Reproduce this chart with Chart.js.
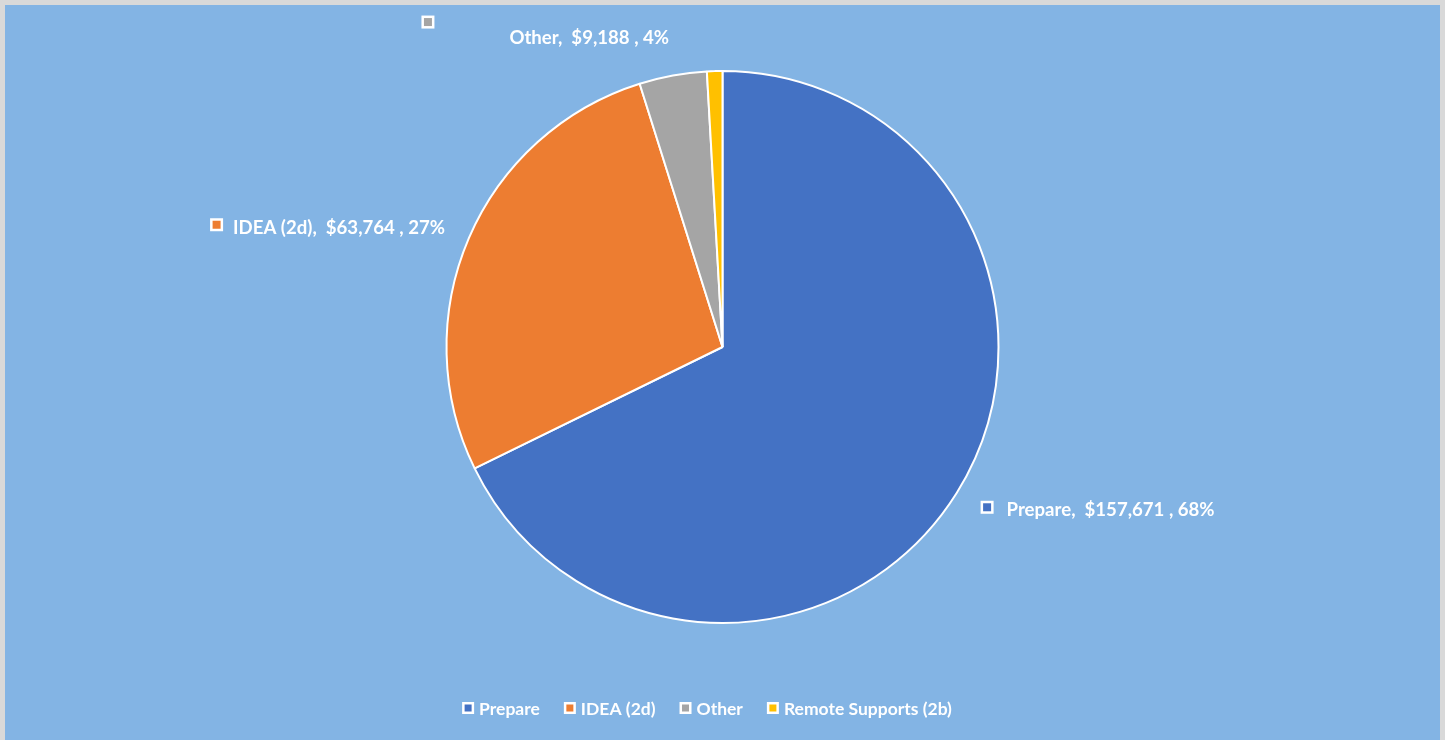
<!DOCTYPE html>
<html>
<head>
<meta charset="utf-8">
<script src="https://cdn.jsdelivr.net/npm/chart.js@4/dist/chart.umd.min.js"></script>
<style>
  html, body { margin: 0; padding: 0; background: #d9d9d9; }
  #wrap { width: 1445px; height: 740px; }
</style>
</head>
<body>
<div id="wrap"><canvas id="fundingChart" width="1445" height="740"></canvas></div>
<script>
const categories = ['Prepare', 'IDEA (2d)', 'Other', 'Remote Supports (2b)']
const amounts = [157671, 63764, 9188, 2100]
const sliceColors = ['#4472c4', '#ed7d31', '#a5a5a5', '#ffc000']
const showLabel = [true, true, true, false]

const FONT = 'Lato, "Open Sans", sans-serif'
const BG = '#83b4e4'

const money = v => '$' + v.toLocaleString('en-US') + ' '

// panel background with the grey frame round it
const panelBg = {
    id: 'panelBg',
    beforeDraw(chart) {
        const ctx = chart.ctx
        ctx.save()
        ctx.fillStyle = '#d9d9d9'
        ctx.fillRect(0, 0, chart.width, chart.height)
        ctx.fillStyle = BG
        ctx.fillRect(5, 5, chart.width - 10, chart.height - 5)
        ctx.restore()
    }
}

const drawKey = (ctx, x, y, size, color) => {
    ctx.fillStyle = '#ffffff'
    ctx.fillRect(x, y, size, size)
    ctx.fillStyle = color
    ctx.fillRect(x + 2.5, y + 2.5, size - 5, size - 5)
}

// outside-end data labels, excel style
const outsideLabels = {
    id: 'outsideLabels',
    afterDraw(chart) {
        const ctx = chart.ctx
        const meta = chart.getDatasetMeta(0)
        const total = amounts.reduce((a, b) => a + b, 0)
        ctx.save()
        ctx.font = 'bold 18.6px ' + FONT
        ctx.textBaseline = 'middle'
        meta.data.forEach((arc, i) => {
            if (!showLabel[i]) return
            const { x, y, startAngle, endAngle, outerRadius } = arc.getProps(['x', 'y', 'startAngle', 'endAngle', 'outerRadius'], true)
            const mid = (startAngle + endAngle) / 2
            const r = outerRadius + 27
            const ax = x + Math.cos(mid) * r
            const ay = y + Math.sin(mid) * r
            const pct = Math.round(amounts[i] / total * 100)
            const text = `${categories[i]},  ${money(amounts[i])}, ${pct}%`
            const w = ctx.measureText(text).width
            const cy = ay + 13 * Math.pow(Math.sin(mid), 3) + 1
            const keySize = 13
            let textX, keyX, keyY
            if (ax >= x) {
                keyX = ax + 1
                textX = keyX + keySize + 13
            } else {
                textX = ax - w + 1
                keyX = textX - keySize - 10
            }
            keyY = cy - keySize / 2 - 3
            if (i === 2) {
                // excel left this key behind when the label was moved
                keyX = textX - 88
                keyY = cy - 22
            }
            drawKey(ctx, keyX, keyY, keySize, sliceColors[i])
            ctx.fillStyle = '#ffffff'
            ctx.textAlign = 'left'
            ctx.fillText(text, textX, cy)
        })
        ctx.restore()
    }
}

// bottom legend, drawn by hand to keep the tight key/text spacing
const bottomLegend = {
    id: 'bottomLegend',
    afterDraw(chart) {
        const ctx = chart.ctx
        ctx.save()
        ctx.font = 'bold 17.5px ' + FONT
        ctx.textBaseline = 'middle'
        const keySize = 12
        const gapKey = 5
        const gapItem = 24
        const widths = categories.map(c => ctx.measureText(c).width)
        const full = widths.reduce((s, w) => s + keySize + gapKey + w, 0) + gapItem * (categories.length - 1)
        let cx = 707 - full / 2
        const cy = 709
        categories.forEach((c, i) => {
            drawKey(ctx, cx, cy - keySize / 2 - 1, keySize, sliceColors[i])
            ctx.fillStyle = '#ffffff'
            ctx.fillText(c, cx + keySize + gapKey, cy)
            cx += keySize + gapKey + widths[i] + gapItem
        })
        ctx.restore()
    }
}

const renderPie = () => {
    const data = {
        labels: categories,
        datasets: [{
            data: amounts,
            backgroundColor: sliceColors,
            borderColor: '#ffffff',
            borderWidth: 2
        }]
    }

    const options = {
        responsive: false,
        animation: false,
        layout: { padding: { top: 70, bottom: 116 } },
        plugins: {
            legend: { display: false },
            tooltip: { enabled: false }
        }
    }

    new Chart('fundingChart', { type: 'pie', data, options, plugins: [panelBg, outsideLabels, bottomLegend] })
}

renderPie()
</script>
</body>
</html>
